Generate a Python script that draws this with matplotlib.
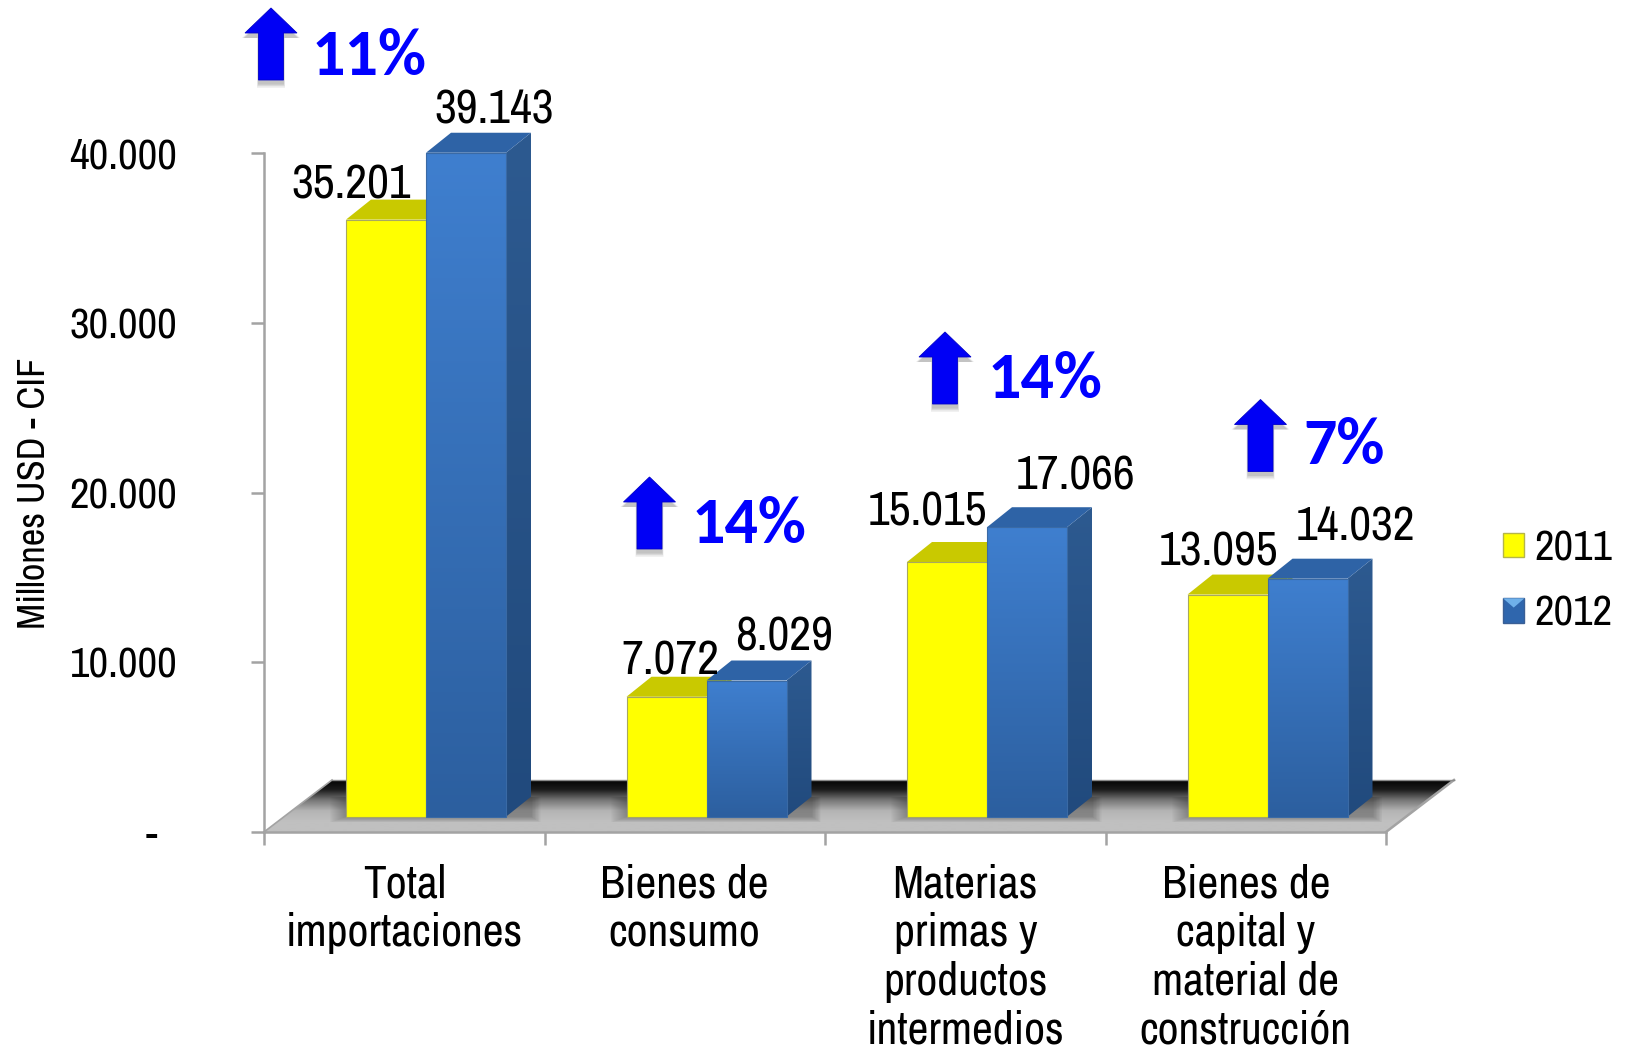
import numpy as np
import matplotlib
matplotlib.use("Agg")
import matplotlib.pyplot as plt
from matplotlib.patches import Polygon, Patch
from matplotlib.colors import LinearSegmentedColormap
from matplotlib import font_manager as fm

# ---------- data ----------
categories = ["Total\nimportaciones", "Bienes de\nconsumo",
              "Materias\nprimas y\nproductos\nintermedios",
              "Bienes de\ncapital y\nmaterial de\nconstrucción"]
values_2011 = [35201, 7072, 15015, 13095]
values_2012 = [39143, 8029, 17066, 14032]
series_names = ["2011", "2012"]
growth_labels = ["11%", "14%", "14%", "7%"]
y_ticks = [0, 10000, 20000, 30000, 40000]
y_tick_labels = ["-", "10.000", "20.000", "30.000", "40.000"]
y_title = "Millones USD - CIF"

# ---------- fonts ----------
installed = {f.name for f in fm.fontManager.ttflist}
def pick(*names):
    return [n for n in names if n in installed] + ["DejaVu Sans"]
plt.rcParams["font.family"] = pick("Archivo Narrow", "PT Sans Narrow", "Pragati Narrow", "Liberation Sans")
BOLD_FONT = pick("Carlito", "Lato")

# ---------- layout (pixels in the 1627x1050 canvas) ----------
W, H = 1627, 1050
AX_L, AX_R, AX_T, AX_B = 264, 1386, 153.5, 832
fig = plt.figure(figsize=(W / 100, H / 100), dpi=100, facecolor="white")
ax = fig.add_axes([AX_L / W, 1 - AX_B / H, (AX_R - AX_L) / W, (AX_B - AX_T) / H])
ax.set_xlim(0, 4)
ax.set_ylim(0, 40000)
ax.set_autoscale_on(False)
ax.set_facecolor("none")
PX_X = 4 / (AX_R - AX_L)
PX_Y = 40000 / (AX_B - AX_T)
def dx(p): return p * PX_X
def dy(p): return p * PX_Y

GREY = "#a3a3a3"
for s in ["top", "right"]:
    ax.spines[s].set_visible(False)
for s in ["left", "bottom"]:
    ax.spines[s].set_color(GREY)
    ax.spines[s].set_linewidth(1.8)

def grad_poly(pts, c_top, c_bot, extent=None, z=2, cmap_pts=None):
    pts = np.asarray(pts)
    poly = Polygon(pts, closed=True, facecolor="none", edgecolor="none", zorder=z, clip_on=False)
    ax.add_patch(poly)
    if cmap_pts is None:
        cmap_pts = [c_bot, c_top]
    cm = LinearSegmentedColormap.from_list("g", cmap_pts)
    e = extent or [pts[:, 0].min(), pts[:, 0].max(), pts[:, 1].min(), pts[:, 1].max()]
    im = ax.imshow(np.linspace(1, 0, 256).reshape(-1, 1), cmap=cm, vmin=0, vmax=1, aspect="auto",
                   extent=e, zorder=z, interpolation="bilinear")
    im.set_clip_box(fig.bbox)
    im.set_clip_path(poly)
    return im

# ---------- floor ----------
floor_dx, floor_dy = dx(68), dy(52)
floor = [(0, 0), (4, 0), (4 + floor_dx, floor_dy), (floor_dx, floor_dy)]
grad_poly(floor, None, None, z=1,
          extent=[0, 4 + floor_dx, 0, floor_dy],
          cmap_pts=["#c0c0c0", "#c0c0c0", "#b4b4b4", "#777777", "#1c1c1c", "#000000"])
ax.plot([4, 4 + floor_dx], [0, floor_dy], color=GREY, lw=1.8, zorder=1.5, clip_on=False)
ax.plot([0, floor_dx], [0, floor_dy], color=GREY, lw=1.2, zorder=1.5, clip_on=False)
ax.plot([floor_dx, 4 + floor_dx], [floor_dy, floor_dy], color="#8a8a8a", lw=1.0, zorder=1.5, clip_on=False)

# ---------- bars ----------
x = np.arange(len(categories))
BAR_W = 80 * PX_X
BAR_OFF = 82 * PX_X
base = dy(15.3)
depth_x, depth_y = dx(25), dy(20)

def shadow(left, right):
    for k in range(1, 17):
        ax.add_patch(Polygon([(left - dx(k), base - dy(k * .35)), (right + dx(k * .6), base - dy(k * .35)),
                              (right + dx(k * .6), base + depth_y), (left - dx(k), base + depth_y)],
                             closed=True, fc="#303030", ec="none", alpha=0.022, zorder=1.6, clip_on=False))

def bar3d(left, val, front_top, front_bot, side_top, side_bot, top_col, edge, z):
    top = base + val
    r = left + BAR_W
    grad_poly([(r, base), (r + depth_x, base + depth_y), (r + depth_x, top + depth_y), (r, top)],
              side_top, side_bot, z=z)
    ax.add_patch(Polygon([(left, top), (r, top), (r + depth_x, top + depth_y), (left + depth_x, top + depth_y)],
                         closed=True, fc=top_col, ec="none", zorder=z + .1, clip_on=False))
    grad_poly([(left, base), (r, base), (r, top), (left, top)], front_top, front_bot, z=z + .2)
    return ax.bar(left, val, BAR_W, bottom=base, align="edge", facecolor="none", edgecolor=edge,
                  linewidth=0.8, zorder=z + .3, clip_on=False)

for i in x:
    shadow(i + BAR_OFF, i + BAR_OFF + 2 * BAR_W + depth_x)
    bar3d(i + BAR_OFF, values_2011[i], "#ffff00", "#ffff00", "#c9c900", "#c9c900", "#c9c900", "#a8a860", 2)
    bar3d(i + BAR_OFF + BAR_W, values_2012[i], "#3f7fcf", "#2c5f9f", "#2d5a90", "#214a7d", "#2e63a6", "#3a6aa5", 3)

# ---------- value labels (offset in px from the bar's top centre) ----------
off_2011 = [(-35, 35), (4, 36), (-20, 50), (-9, 43)]
off_2012 = [(28, 43), (38, 44), (48, 51), (48, 52)]
VAL_FS = 34.4
for i in x:
    for vals, left, off in ((values_2011, i + BAR_OFF, off_2011[i]),
                            (values_2012, i + BAR_OFF + BAR_W, off_2012[i])):
        ax.annotate(f"{vals[i] / 1000:.3f}", xy=(left + BAR_W / 2, base + vals[i]),
                    xytext=(off[0] * .72, off[1] * .72), textcoords="offset points",
                    ha="center", va="center", fontsize=VAL_FS, color="black", zorder=6,
                    annotation_clip=False)

# ---------- axes ticks ----------
ax.set_yticks(y_ticks)
ax.set_yticklabels(y_tick_labels, fontsize=30.8, color="black")
ax.tick_params(axis="y", length=9.5, width=1.8, color=GREY, pad=53)
ax.yaxis.get_major_ticks()[0].set_pad(67)
ax.set_xticks(np.arange(len(categories) + 1))
ax.set_xticklabels([""] * (len(categories) + 1))
ax.tick_params(axis="x", which="major", length=9, width=1.8, color=GREY)
ax.set_xticks(x + 0.5, minor=True)
ax.set_xticklabels(categories, minor=True, fontsize=32.8, color="black", linespacing=1.19, ha="center", va="top")
ax.tick_params(axis="x", which="minor", length=0, pad=23)
ax.set_axisbelow(False)
for sp in ax.spines.values():
    sp.set_zorder(1.2)

fig.text(35 / W, 1 - 493 / H, y_title, rotation=90, ha="center", va="center", fontsize=27.7, color="black")

# ---------- growth arrows ----------
def fx(px): return px / W
def fy(py): return 1 - py / H
arrow_tips = [(271, 8), (649.5, 477), (945, 332), (1260.5, 399.5)]
growth_pos = [(369, 57), (749, 525), (1045, 380), (1344, 446)]
for (tx, ty), (gx, gy), lab in zip(arrow_tips, growth_pos, growth_labels):
    shape = [(0, 0), (26, 25), (12.5, 25), (12.5, 72), (-12.5, 72), (-12.5, 25), (-26, 25)]
    for k, a in zip([6, 4, 2], [0.10, 0.14, 0.18]):
        fig.add_artist(Polygon([(fx(tx + sx * (1 + k * .02)), fy(ty + sy + 3 + k * .8 if sy > 30 else ty + sy + 5)) for sx, sy in shape],
                               closed=True, transform=fig.transFigure, fc="#606060", ec="none", alpha=a, zorder=5))
    fig.add_artist(Polygon([(fx(tx + sx), fy(ty + sy)) for sx, sy in shape],
                           closed=True, transform=fig.transFigure, fc="#0000f5", ec="#0000c8", lw=0.6, zorder=6))
    fig.text(fx(gx), fy(gy), lab, ha="center", va="center", fontsize=47.4, fontweight="bold",
             family=BOLD_FONT, color="#0000ff", zorder=7)

# ---------- legend ----------
handles = [Patch(facecolor="#ffff00", edgecolor="#b5b54a", linewidth=1.0, label=series_names[0]),
           Patch(facecolor="#2f66ad", edgecolor="#3a5f95", linewidth=1.0, label=series_names[1])]
leg = fig.legend(handles=handles, loc="center left", bbox_to_anchor=(fx(1503), fy(581)), frameon=False,
                 prop={"size": 30.8}, handlelength=0.5, handleheight=0.5, handletextpad=0.24,
                 labelspacing=0.64, borderpad=0, borderaxespad=0)
fig.canvas.draw()
# light chevron on the 2012 swatch
bb = leg.legend_handles[1].get_window_extent(fig.canvas.get_renderer())
fig.add_artist(Polygon([(bb.x0 / W, bb.y1 / H), (bb.x1 / W, bb.y1 / H), ((bb.x0 + bb.x1) / 2 / W, (bb.y1 - 0.38 * bb.height) / H)],
                       closed=True, transform=fig.transFigure, fc="#6fb0ea", ec="none", zorder=8))
fig.savefig("out.png", dpi=100, facecolor="white")
